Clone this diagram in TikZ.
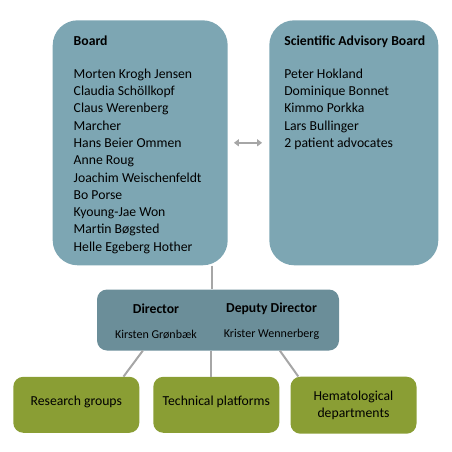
\documentclass[tikz,border=0pt]{standalone}
\usepackage{fontspec}
\setmainfont{Carlito}
\usetikzlibrary{arrows.meta}
\definecolor{boardblue}{RGB}{125,166,179}
\definecolor{directorblue}{RGB}{107,142,153}
\definecolor{unitgreen}{RGB}{138,158,52}
\definecolor{linkgrey}{RGB}{166,166,166}
\tikzset{
    bigbox/.style={fill=boardblue, rounded corners=25pt, minimum height=245pt, inner sep=0pt},
    unitbox/.style={fill=unitgreen, rounded corners=10pt, minimum width=126pt, minimum height=56pt, align=center, font=\fontsize{13.7}{17.5}\selectfont},
    oneline/.style={text depth=9pt},
    listtext/.style={anchor=north west, align=left, inner sep=0pt, font=\fontsize{13.7}{17.3}\selectfont},
    headtext/.style={align=center, inner sep=0pt, font=\fontsize{13.7}{17}\selectfont},
    link/.style={draw=linkgrey, line width=2pt}
}
\begin{document}
\begin{tikzpicture}[x=1pt,y=-1pt]
        \useasboundingbox (0,0) rectangle (452,452);
        \node [bigbox, minimum width=175pt] (board) at (140.2,142.8) {};
        \node [bigbox, minimum width=169pt] (sab) at (353.8,142.8) {};
        \node [listtext] (boardtext) at ([xshift=21pt,yshift=-16pt]board.north west) {\textbf{Board}\\[15pt]Morten Krogh Jensen\\Claudia Schöllkopf\\Claus Werenberg\\Marcher\\Hans Beier Ommen\\Anne Roug\\Joachim Weischenfeldt\\Bo Porse\\Kyoung-Jae Won\\Martin Bøgsted\\Helle Egeberg Hother};
        \node [listtext] (sabtext) at ([xshift=15pt,yshift=-16pt]sab.north west) {\textbf{Scientific Advisory Board}\\[15pt]Peter Hokland\\Dominique Bonnet\\Kimmo Porkka\\Lars Bullinger\\2 patient advocates};
        \draw [link, {Triangle[length=5pt,width=7pt]}-{Triangle[length=5pt,width=7pt]}] ([xshift=6pt]board.east) -- ([xshift=-7pt]sab.west);
        \node [fill=directorblue, rounded corners=10pt, minimum width=242pt, minimum height=61pt] (director) at (218,320) {};
        \node [headtext] (dirtext) at ([xshift=-62pt,yshift=-1.5pt]director.center) {\textbf{Director}\\[8pt]{\fontsize{12}{14}\selectfont Kirsten Grønbæk}};
        \node [headtext] (deputytext) at ([xshift=53.5pt,yshift=-1.5pt]director.center) {\textbf{Deputy Director}\\[8pt]{\fontsize{12}{14}\selectfont Krister Wennerberg}};
        \node [unitbox, oneline] (research) at (76.3,404.8) {Research groups};
        \node [unitbox, oneline] (platforms) at (216.3,404.8) {Technical platforms};
        \node [unitbox, minimum height=57pt] (hemato) at (353.5,405.2) {Hematological\\departments};
        \draw [link] ([xshift=-15.5pt]board.south east) -- ([xshift=-15.5pt]board.south east |- director.north);
        \draw [link] ([xshift=46pt]director.south west) -- ([xshift=-16pt]research.north east);
        \draw [link] ([xshift=-5.6pt]platforms.north |- director.south) -- ([xshift=-5.6pt]platforms.north);
        \draw [link] ([xshift=-59.3pt]director.south east) -- ([xshift=8pt]hemato.north west);
    \end{tikzpicture}
\end{document}
